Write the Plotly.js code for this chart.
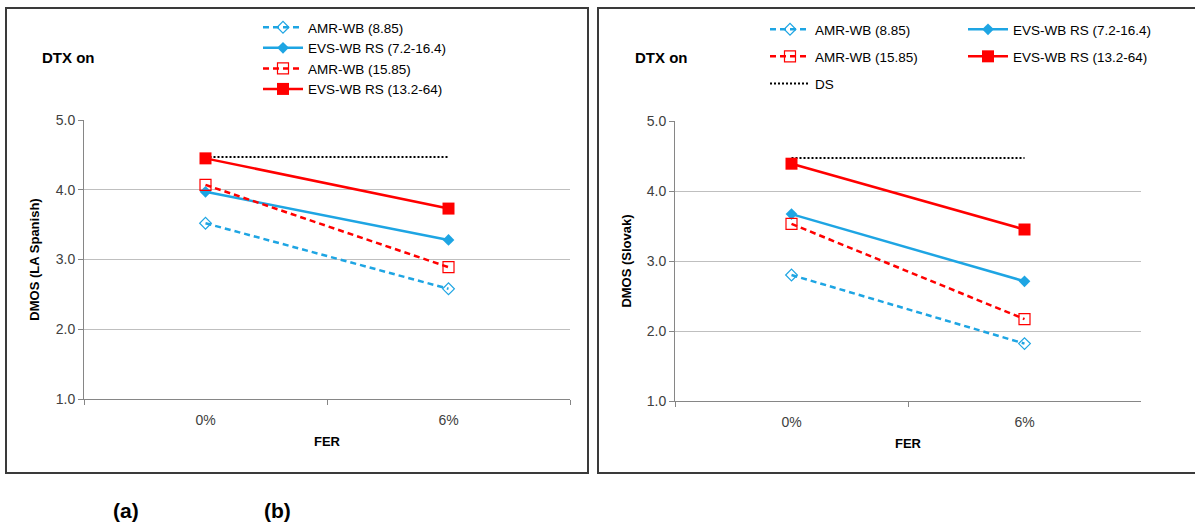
<!DOCTYPE html>
<html>
<head>
<meta charset="utf-8">
<script src="https://cdn.plot.ly/plotly-3.0.1.min.js"></script>
<style>
  html, body { margin: 0; padding: 0; background: #ffffff; }
  #chart { width: 1195px; height: 524px; }
</style>
</head>
<body>
<div id="chart"></div>
<script>
// ---- data ----
const categories = ["0%", "6%"];
const seriesNames = ["AMR-WB (8.85)", "EVS-WB RS (7.2-16.4)", "AMR-WB (15.85)", "EVS-WB RS (13.2-64)", "DS"];

// (a) LA Spanish
const spanishAmr885  = [3.52, 2.58];
const spanishEvs72   = [3.97, 3.28];
const spanishAmr1585 = [4.07, 2.89];
const spanishEvs132  = [4.45, 3.73];
const spanishDS      = [4.47, 4.47];

// (b) Slovak
const slovakAmr885  = [2.80, 1.82];
const slovakEvs72   = [3.67, 2.71];
const slovakAmr1585 = [3.53, 2.17];
const slovakEvs132  = [4.39, 3.45];
const slovakDS      = [4.47, 4.47];

const yTickVals = [1, 2, 3, 4, 5];
const yTickText = ["1.0", "2.0", "3.0", "4.0", "5.0"];

// ---- styling ----
const W = 1195, H = 524;
const px = x => x / W;
const py = y => 1 - y / H;
const BLUE = "#1ea5e3";
const RED = "#ff0000";
const FONT = "Liberation Sans, Arial, sans-serif";

const styles = [
  { line: { color: BLUE, width: 2.5, dash: "6px,4px" }, marker: { symbol: "diamond-open", size: 9, color: BLUE, line: { color: BLUE, width: 1.2 } } },
  { line: { color: BLUE, width: 2.5 }, marker: { symbol: "diamond", size: 9, color: BLUE } },
  { line: { color: RED, width: 2.5, dash: "6px,4px" }, marker: { symbol: "square-open", size: 11, color: RED, line: { color: RED, width: 1.2 } } },
  { line: { color: RED, width: 2.5 }, marker: { symbol: "square", size: 12, color: RED } },
  { line: { color: "#000000", width: 2, dash: "2px,2px" } }
];

function mk(i, y, xa, ya, legend, showlegend, group, rank) {
  const t = {
    type: "scatter",
    mode: i === 4 ? "lines" : "lines+markers",
    x: categories,
    y: y,
    name: seriesNames[i],
    xaxis: xa,
    yaxis: ya,
    line: styles[i].line,
    showlegend: showlegend,
    legend: legend,
    legendgroup: group,
    legendrank: rank
  };
  if (i !== 4) t.marker = styles[i].marker;
  return t;
}

const data = [
  mk(4, spanishDS, "x", "y", "legend", false, "a4", 1005),
  mk(0, spanishAmr885, "x", "y", "legend", true, "a0", 1001),
  mk(1, spanishEvs72, "x", "y", "legend", true, "a1", 1002),
  mk(2, spanishAmr1585, "x", "y", "legend", true, "a2", 1003),
  mk(3, spanishEvs132, "x", "y", "legend", true, "a3", 1004),

  mk(4, slovakDS, "x2", "y2", "legend2", true, "b4", 1003),
  mk(0, slovakAmr885, "x2", "y2", "legend2", true, "b0", 1001),
  mk(1, slovakEvs72, "x2", "y2", "legend3", true, "b1", 1001),
  mk(2, slovakAmr1585, "x2", "y2", "legend2", true, "b2", 1002),
  mk(3, slovakEvs132, "x2", "y2", "legend3", true, "b3", 1002)
];

const xBase = {
  type: "category",
  range: [-0.5, 1.5],
  tickson: "boundaries",
  ticks: "outside",
  ticklen: 5,
  tickcolor: "#868686",
  showline: true,
  linecolor: "#868686",
  linewidth: 1,
  showgrid: false,
  zeroline: false,
  fixedrange: true,
  ticklabelstandoff: 8,
  tickfont: { family: FONT, size: 14, color: "#404040" },
  title: { text: "<b>FER</b>", font: { family: FONT, size: 13, color: "#000000" }, standoff: 10 }
};
const yBase = {
  range: [1, 5],
  tickvals: yTickVals,
  ticktext: yTickText,
  ticks: "outside",
  ticklen: 5,
  tickcolor: "#868686",
  showline: true,
  linecolor: "#868686",
  linewidth: 1,
  showgrid: true,
  gridcolor: "#bfbfbf",
  gridwidth: 1,
  zeroline: false,
  fixedrange: true,
  tickfont: { family: FONT, size: 14, color: "#404040" }
};

const legendBase = {
  orientation: "v",
  bgcolor: "rgba(0,0,0,0)",
  borderwidth: 0,
  itemwidth: 40,
  xanchor: "left",
  yanchor: "top",
  font: { family: FONT, size: 13.5, color: "#000000" },
  itemclick: false,
  itemdoubleclick: false
};

const layout = {
  width: W,
  height: H,
  margin: { l: 0, r: 0, t: 0, b: 0 },
  paper_bgcolor: "#ffffff",
  plot_bgcolor: "#ffffff",
  hovermode: false,
  showlegend: true,
  xaxis: Object.assign({}, xBase, { domain: [px(84), px(570)], anchor: "y" }),
  yaxis: Object.assign({}, yBase, { domain: [py(399), py(120)], anchor: "x",
    title: { text: "<b>DMOS (LA Spanish)</b>", font: { family: FONT, size: 13, color: "#000000" }, standoff: 13 } }),
  xaxis2: Object.assign({}, xBase, { domain: [px(675), px(1141)], anchor: "y2" }),
  yaxis2: Object.assign({}, yBase, { domain: [py(401), py(121)], anchor: "x2",
    title: { text: "<b>DMOS (Slovak)</b>", font: { family: FONT, size: 13, color: "#000000" }, standoff: 12 } }),
  legend: Object.assign({}, legendBase, { x: px(258), y: py(12), tracegroupgap: 0, traceorder: "normal" }),
  legend2: Object.assign({}, legendBase, { x: px(765), y: py(14), tracegroupgap: 6.5, traceorder: "grouped" }),
  legend3: Object.assign({}, legendBase, { x: px(963), y: py(14), tracegroupgap: 6.5, traceorder: "grouped" }),
  shapes: [
    { type: "rect", xref: "paper", yref: "paper", x0: px(6), x1: px(588), y0: py(473), y1: py(8),
      line: { color: "#3a3a3a", width: 2 }, fillcolor: "rgba(0,0,0,0)", layer: "below" },
    { type: "rect", xref: "paper", yref: "paper", x0: px(598), x1: px(1200), y0: py(473), y1: py(8),
      line: { color: "#3a3a3a", width: 2 }, fillcolor: "rgba(0,0,0,0)", layer: "below" }
  ],
  annotations: [
    { text: "<b>DTX on</b>", xref: "paper", yref: "paper", x: px(40), y: py(57), xanchor: "left", yanchor: "middle",
      showarrow: false, font: { family: FONT, size: 15, color: "#000000" } },
    { text: "<b>DTX on</b>", xref: "paper", yref: "paper", x: px(633), y: py(57), xanchor: "left", yanchor: "middle",
      showarrow: false, font: { family: FONT, size: 15, color: "#000000" } },
    { text: "<b>(a)</b>", xref: "paper", yref: "paper", x: px(126), y: py(510), xanchor: "center", yanchor: "middle",
      showarrow: false, font: { family: FONT, size: 21, color: "#000000" } },
    { text: "<b>(b)</b>", xref: "paper", yref: "paper", x: px(277), y: py(510), xanchor: "center", yanchor: "middle",
      showarrow: false, font: { family: FONT, size: 21, color: "#000000" } }
  ]
};

Plotly.newPlot("chart", data, layout, { staticPlot: true, displayModeBar: false });
</script>
</body>
</html>
